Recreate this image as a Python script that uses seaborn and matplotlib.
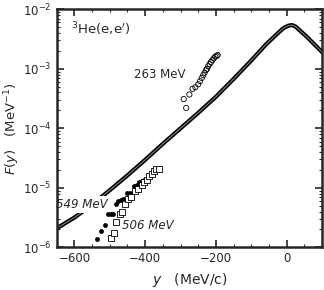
import numpy as np
import pandas as pd
import matplotlib
matplotlib.use("Agg")
import matplotlib.pyplot as plt
import seaborn as sns
from matplotlib.ticker import MultipleLocator, LogLocator, NullFormatter

# theory curve (log10 F)
curve_y = [-650, -600, -550, -500, -450, -400, -350, -300, -250, -200, -150,
           -100, -60, -30, -10, 5, 15, 25, 40, 60, 80, 100]
curve_logF = [-5.68, -5.50, -5.28, -5.04, -4.79, -4.53, -4.26, -4.00, -3.74,
              -3.47, -3.17, -2.86, -2.60, -2.43, -2.32, -2.275, -2.265, -2.29,
              -2.37, -2.48, -2.60, -2.72]

# 263 MeV (open circles)
y263 = [-284, -291, -275, -266, -258, -250, -245, -240, -236, -232, -228,
        -225, -222, -218, -214, -210, -206, -202, -198, -195]
F263 = [2.2e-4, 3.1e-4, 3.7e-4, 4.6e-4, 4.9e-4, 5.5e-4, 6.2e-4, 7.0e-4,
        7.8e-4, 8.6e-4, 9.5e-4, 1.0e-3, 1.1e-3, 1.2e-3, 1.3e-3, 1.4e-3,
        1.5e-3, 1.6e-3, 1.65e-3, 1.7e-3]

# 549 MeV (filled circles)
y549 = [-537, -526, -513, -504, -497, -490, -483, -476, -469, -462, -452,
        -443, -431, -424, -417, -410, -404, -396]
F549 = [1.38e-6, 1.9e-6, 2.37e-6, 3.6e-6, 3.6e-6, 3.6e-6, 5.4e-6, 5.9e-6,
        6.2e-6, 6.6e-6, 8.3e-6, 8.3e-6, 1.07e-5, 1.1e-5, 1.24e-5, 1.28e-5,
        1.35e-5, 1.41e-5]

# 506 MeV (open squares)
y506 = [-497, -487, -481, -471, -465, -457, -448, -441, -429, -420, -410,
        -404, -396, -389, -382, -376, -368, -361]
F506 = [1.45e-6, 1.76e-6, 2.7e-6, 3.6e-6, 4.0e-6, 5.3e-6, 6.4e-6, 6.9e-6,
        8.9e-6, 9.5e-6, 1.12e-5, 1.26e-5, 1.38e-5, 1.58e-5, 1.74e-5,
        1.94e-5, 2.04e-5, 2.09e-5]

sns.set_style("ticks")
plt.rcParams["font.family"] = ["DejaVu Sans"]

fig = plt.figure(figsize=(3.24, 2.90), dpi=100)
ax = fig.add_axes([0.175, 0.147, 0.819, 0.821])

curve = pd.DataFrame({"y": curve_y, "F": 10 ** np.array(curve_logF)})
sns.lineplot(data=curve, x="y", y="F", ax=ax, color="black", lw=3.0, zorder=2)
sns.lineplot(data=curve, x="y", y="F", ax=ax, color="white", lw=0.7, alpha=0.55, zorder=2)

sns.scatterplot(x=y263, y=F263, ax=ax, marker="o", s=14, facecolor="none",
                edgecolor="black", linewidth=0.6, zorder=3)
sns.scatterplot(x=y549, y=F549, ax=ax, marker="o", s=12, color="black",
                edgecolor="black", linewidth=0, zorder=3)
sns.scatterplot(x=y506, y=F506, ax=ax, marker="s", s=16, facecolor="white",
                edgecolor="black", linewidth=0.6, zorder=3)

ax.set_yscale("log")
ax.set_xlim(-650, 100)
ax.set_ylim(1e-6, 1e-2)

ax.xaxis.set_major_locator(MultipleLocator(200))
ax.xaxis.set_minor_locator(MultipleLocator(50))
ax.yaxis.set_major_locator(LogLocator(base=10, numticks=10))
ax.yaxis.set_minor_locator(LogLocator(base=10, subs=np.arange(2, 10), numticks=10))
ax.yaxis.set_minor_formatter(NullFormatter())
ax.tick_params(which="both", direction="in", top=True, right=True, labelsize=8.5)
ax.tick_params(which="major", length=5, width=1.2)
ax.tick_params(which="minor", length=2.5, width=0.8)
for sp in ax.spines.values():
    sp.set_linewidth(1.8)

ax.text(0.055, 0.915, r"$^3$He(e,e$^{\prime}$)", transform=ax.transAxes,
        fontsize=9.5, va="center", ha="left")
ax.text(-358, 7.9e-4, "263 MeV", fontsize=8.5, ha="center", va="center")
ax.text(-578, 5.3e-6, "549 MeV", fontsize=8.5, ha="center", va="center",
        style="italic", zorder=2.5,
        bbox=dict(facecolor="white", edgecolor="none", pad=1.5))
ax.text(-392, 2.35e-6, "506 MeV", fontsize=8.5, ha="center", va="center",
        style="italic")

ax.set_xlabel(r"$y$   (MeV/c)", fontsize=10)
ax.set_ylabel(r"$F(y)$   (MeV$^{-1}$)", fontsize=9.5)
ax.yaxis.set_label_coords(-0.13, 0.5)

fig.savefig("out.png", dpi=100)
